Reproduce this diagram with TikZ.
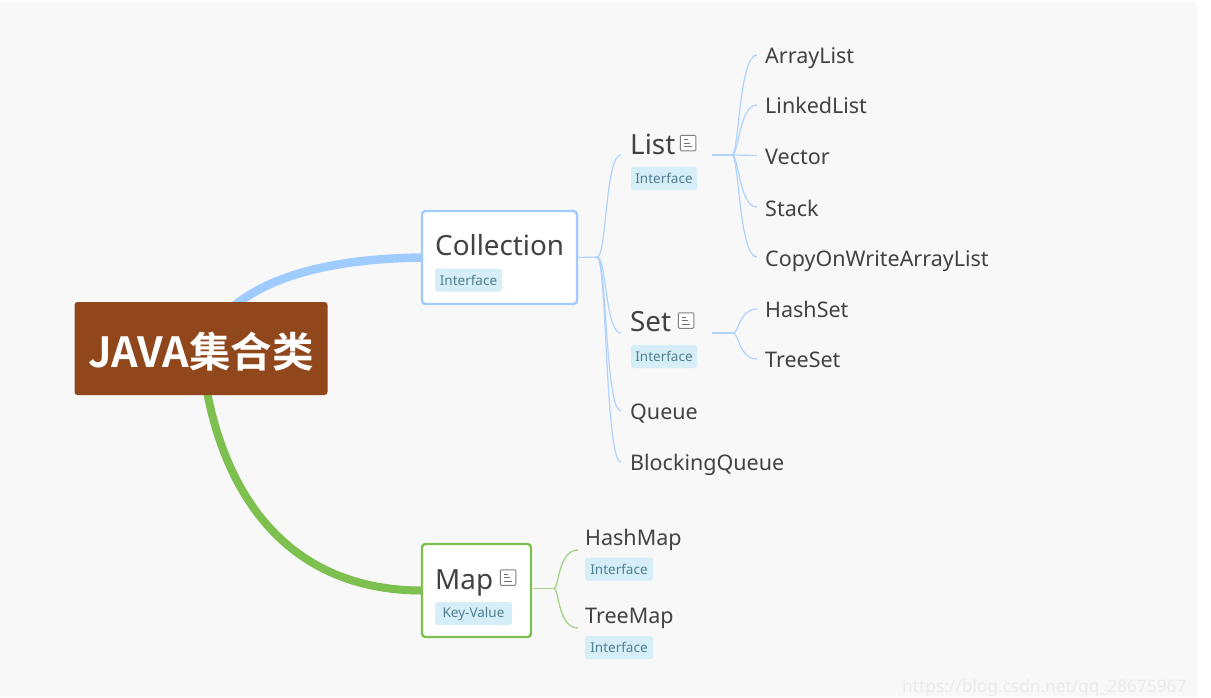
\documentclass[tikz,border=0pt]{standalone}
\usepackage{fontspec}
\usetikzlibrary{calc}
\setmainfont{Noto Sans}
\newfontfamily\cjkbold[BoldFont={Noto Sans CJK SC Bold}]{Noto Sans CJK SC}
\pgfdeclarelayer{paper}
\pgfdeclarelayer{edges}
\pgfsetlayers{paper,edges,main}
\definecolor{bluel}{HTML}{A0CBFF}
\definecolor{bluet}{HTML}{B0D3FD}
\definecolor{greenl}{HTML}{7DC050}
\definecolor{greent}{HTML}{A3D385}
\definecolor{rootc}{HTML}{91471C}
\definecolor{tagc}{HTML}{D5EEF8}
\definecolor{tagt}{HTML}{4F7F90}
\definecolor{ink}{HTML}{424242}
\tikzset{
  fs/.style={font=\fontsize{#1}{#1}\selectfont},
  rootbox/.style={fill=rootc,rounded corners=3pt,minimum width=253,minimum height=93,inner sep=0,text=white,font=\fontsize{41.5}{42}\selectfont\cjkbold\bfseries},
  topicbox/.style={fill=white,line width=2.4pt,rounded corners=3.5pt,inner sep=0},
  titlet/.style={anchor=base west,inner sep=0,text=ink,fs=27.8},
  leaf/.style={anchor=base west,inner sep=0,text=ink,fs=21.5},
  tag/.style={fill=tagc,rounded corners=2.5pt,inner sep=0,text=tagt,minimum height=23,fs=13.5},
  noteicon/.style={draw=black!50,fill=white,line width=1pt,rounded corners=1pt,minimum size=15.5,inner sep=0,
    path picture={\draw[black!55,line width=1pt] (-4,-3.5)--(0,-3.5) (-4,0)--(2,0) (-4,3.5)--(4,3.5);}},
  thin blue/.style={bluet,line width=1.2pt},
  thin green/.style={greent,line width=1.3pt},
}
\begin{document}
\begin{tikzpicture}[x=1pt,y=-1pt]
\useasboundingbox (0,0) rectangle (1211,697);
\begin{pgfonlayer}{paper}
\fill[white] (0,0) rectangle (1211,697);
\fill[black!2.6] (0,2) rectangle (1197,697);
\end{pgfonlayer}

% Central topic and main topics
\node[rootbox] (root) at (201,348.5) {\raisebox{-18.5pt}[18.5pt][18.5pt]{JAVA集合类}};
\node[topicbox,draw=bluel,minimum width=155,minimum height=93] (coll) at (499.5,257.5) {};
\node[topicbox,draw=greenl,minimum width=109,minimum height=93] (map) at (476.5,590.5) {};

\node[titlet] (colltext) at (435,255.5) {Collection};
\node[tag,minimum width=67] (colltag) at (468.5,280) {Interface};
\node[titlet] (maptext) at (435,589) {Map};
\node[noteicon] (mapnote) at (508,577.5) {};
\node[tag,minimum width=77] (maptag) at (473.5,613.5) {Key-Value};

% Collection branches
\node[titlet] (list) at (630,154) {List};
\node[noteicon] (listnote) at (688,143) {};
\node[tag,minimum width=66] (listtag) at (664,178.5) {Interface};
\node[titlet] (set) at (630,331.5) {Set};
\node[noteicon] (setnote) at (686,320.5) {};
\node[tag,minimum width=66] (settag) at (664,356.5) {Interface};
\node[leaf] (queue) at (630,419) {Queue};
\node[leaf] (bqueue) at (630,470) {BlockingQueue};

% Leaves
\node[leaf] (arraylist) at (765,63) {ArrayList};
\node[leaf] (linkedlist) at (765,113) {LinkedList};
\node[leaf] (vector) at (765,164) {Vector};
\node[leaf] (stack) at (765,216) {Stack};
\node[leaf] (cow) at (765,266) {CopyOnWriteArrayList};
\node[leaf] (hashset) at (765,317) {HashSet};
\node[leaf] (treeset) at (765,367) {TreeSet};
\node[leaf] (hashmap) at (585,545) {HashMap};
\node[tag,minimum width=68] (hmtag) at (619,569) {Interface};
\node[leaf] (treemap) at (585,623) {TreeMap};
\node[tag,minimum width=68] (tmtag) at (619,647.5) {Interface};

% Branch points and connector ends
\coordinate (cj) at (597,257);
\coordinate (lj) at (732,155);
\coordinate (sj) at (733,333);
\coordinate (mj) at (554,588.5);
\coordinate (m-out) at (533,588.5);
\coordinate (e-list) at (621,155);
\coordinate (e-set) at (621,333);
\coordinate (e-queue) at (621,411);
\coordinate (e-bq) at (621,462);
\coordinate (l-out) at (712,155);
\coordinate (s-out) at (712,333);
\coordinate (e1) at (757,55);
\coordinate (e2) at (757,105);
\coordinate (e3) at (757,155.5);
\coordinate (e4) at (757,207);
\coordinate (e5) at (757,257);
\coordinate (e6) at (757,309);
\coordinate (e7) at (757,359);
\coordinate (e8) at (578,550);
\coordinate (e9) at (578,628);

\begin{pgfonlayer}{edges}
\draw[bluel,line width=8.5pt] (root.center) .. controls (232,279) and (325,259) .. (coll.west);
\draw[greenl,line width=8pt] (root.center) .. controls (214,490) and (285,590) .. (map.west);

\draw[thin blue] (coll.east) -- (cj);
\foreach \e in {e-list,e-set,e-queue,e-bq}{
  \draw[thin blue] (cj) .. controls ($(cj)+(10,0)$) and ($(\e)+(-16,0)$) .. (\e);
}
\draw[thin blue] (l-out) -- (lj);
\foreach \e in {e1,e2,e4,e5}{
  \draw[thin blue] (lj) .. controls ($(lj)+(7,0)$) and ($(\e)+(-18,0)$) .. (\e);
}
\draw[thin blue] (lj) -- (e3);
\draw[thin blue] (s-out) -- (sj);
\foreach \e in {e6,e7}{
  \draw[thin blue] (sj) .. controls ($(sj)+(6,0)$) and ($(\e)+(-18,0)$) .. (\e);
}
\draw[thin green] (m-out) -- (mj);
\foreach \e in {e8,e9}{
  \draw[thin green] (mj) .. controls ($(mj)+(5,0)$) and ($(\e)+(-20,0)$) .. (\e);
}
\end{pgfonlayer}

% Watermark
\node[anchor=base west,inner sep=0,text=black!8,fs=17.3] (mark) at (902,692) {https://blog.csdn.net/qq\_28675967};
\end{tikzpicture}
\end{document}
